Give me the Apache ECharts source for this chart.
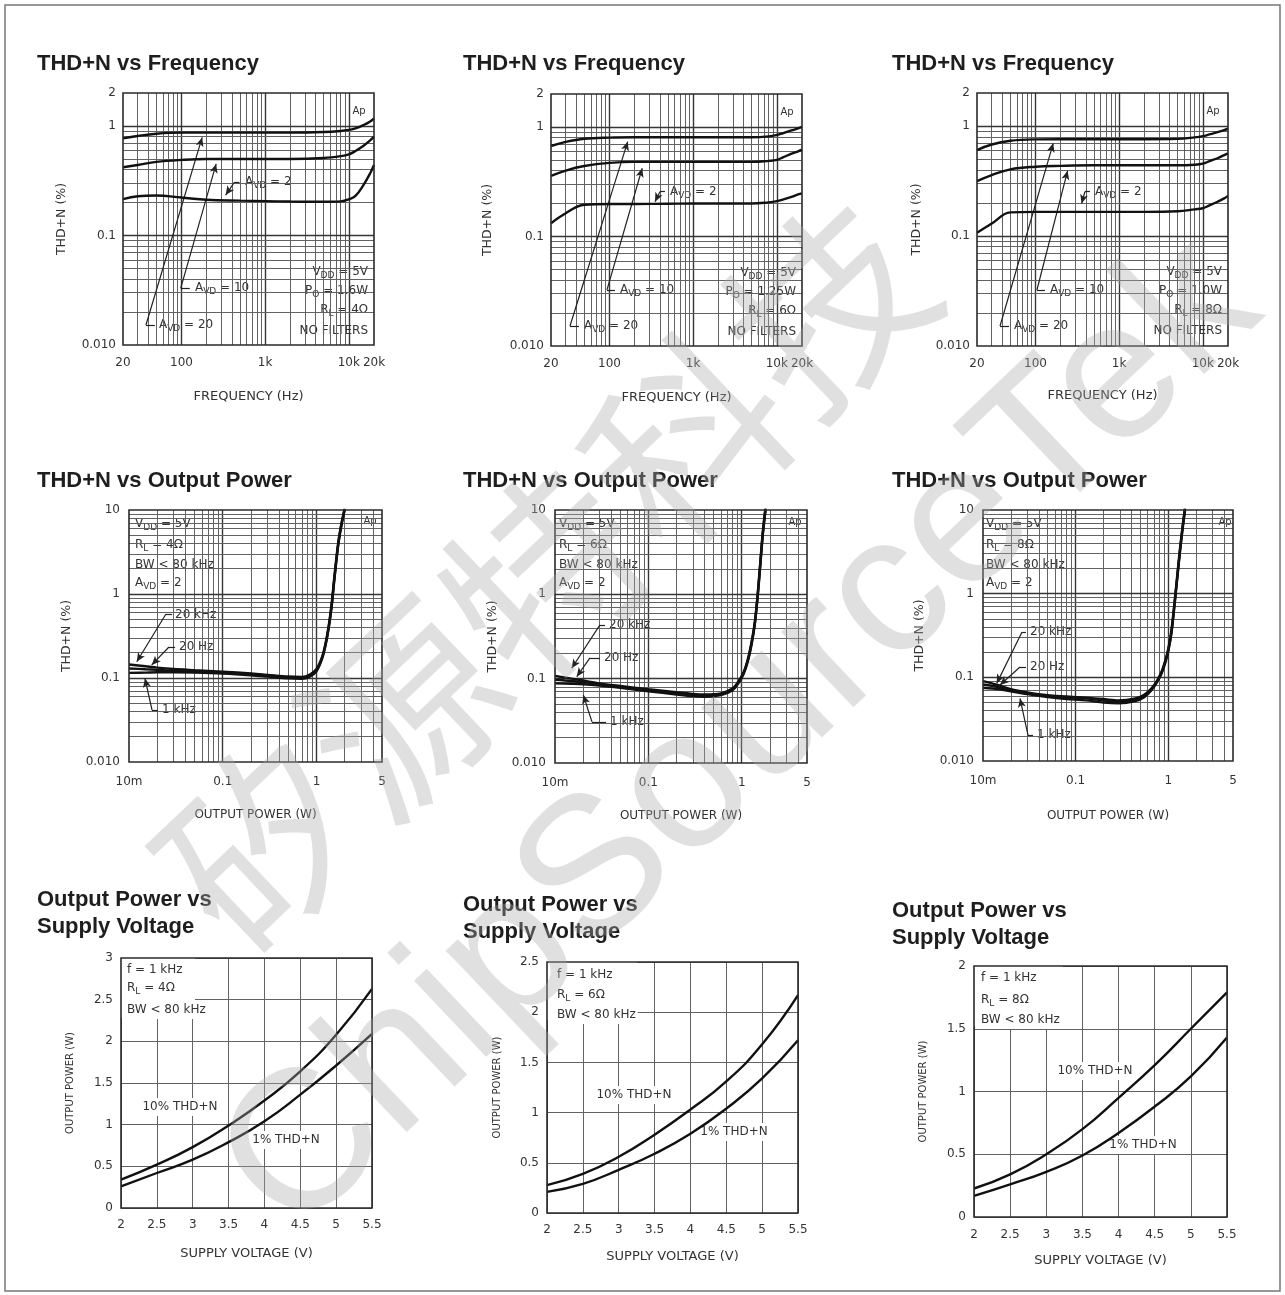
<!DOCTYPE html>
<html>
<head>
<meta charset="utf-8">
<script src="https://cdn.jsdelivr.net/npm/echarts@6/dist/echarts.min.js"></script>
<style>
html,body{margin:0;padding:0;background:#fff;}
#c{width:1285px;height:1295px;}
</style>
</head>
<body>
<div id="c"></div>
<script>
// ================= DATA =================
// THD+N vs Frequency (x: Hz, y: %)
const FREQ_HZ = [20, 30, 50, 100, 200, 500, 1000, 2000, 5000, 8000, 10000, 12000, 15000, 18000, 20000];
const THD_F_4OHM_AVD20 = [0.77, 0.81, 0.85, 0.87, 0.87, 0.87, 0.87, 0.87, 0.88, 0.90, 0.92, 0.95, 1.02, 1.10, 1.17];
const THD_F_4OHM_AVD10 = [0.42, 0.44, 0.47, 0.49, 0.50, 0.50, 0.50, 0.50, 0.51, 0.53, 0.55, 0.59, 0.66, 0.74, 0.80];
const THD_F_4OHM_AVD2  = [0.215, 0.228, 0.232, 0.222, 0.212, 0.208, 0.206, 0.204, 0.203, 0.205, 0.214, 0.23, 0.29, 0.37, 0.44];
const THD_F_6OHM_AVD20 = [0.67, 0.73, 0.78, 0.80, 0.805, 0.805, 0.805, 0.805, 0.805, 0.82, 0.845, 0.88, 0.93, 0.97, 1.0];
const THD_F_6OHM_AVD10 = [0.357, 0.40, 0.44, 0.47, 0.48, 0.48, 0.48, 0.48, 0.48, 0.49, 0.50, 0.53, 0.57, 0.60, 0.62];
const THD_F_6OHM_AVD2  = [0.132, 0.163, 0.195, 0.198, 0.198, 0.199, 0.20, 0.20, 0.20, 0.205, 0.21, 0.218, 0.23, 0.242, 0.248];
const THD_F_8OHM_AVD20 = [0.605, 0.68, 0.735, 0.757, 0.76, 0.76, 0.76, 0.76, 0.765, 0.79, 0.81, 0.84, 0.88, 0.92, 0.95];
const THD_F_8OHM_AVD10 = [0.316, 0.359, 0.404, 0.427, 0.435, 0.44, 0.44, 0.44, 0.44, 0.445, 0.455, 0.48, 0.51, 0.545, 0.565];
const THD_F_8OHM_AVD2  = [0.107, 0.13, 0.164, 0.166, 0.166, 0.166, 0.166, 0.166, 0.168, 0.175, 0.179, 0.19, 0.205, 0.22, 0.232];

// THD+N vs Output Power (x: W, y: %)
const POWER_4OHM_W = [0.01, 0.015, 0.02, 0.03, 0.05, 0.1, 0.2, 0.3, 0.5, 0.7, 0.85, 1.0, 1.15, 1.25, 1.35, 1.45, 1.55, 1.7, 1.85, 2.0];
const THD_P_4OHM_20KHZ = [0.145, 0.138, 0.133, 0.128, 0.124, 0.119, 0.113, 0.109, 0.104, 0.103, 0.110, 0.128, 0.18, 0.26, 0.42, 0.76, 1.6, 4.0, 7.0, 10.5];
const THD_P_4OHM_20HZ  = [0.13, 0.127, 0.125, 0.122, 0.12, 0.116, 0.111, 0.107, 0.101, 0.100, 0.107, 0.124, 0.175, 0.25, 0.40, 0.72, 1.5, 3.8, 6.8, 10.2];
const THD_P_4OHM_1KHZ  = [0.115, 0.116, 0.117, 0.117, 0.116, 0.113, 0.108, 0.104, 0.099, 0.098, 0.104, 0.12, 0.17, 0.245, 0.39, 0.70, 1.45, 3.7, 6.6, 10.0];
const POWER_6OHM_W = [0.01, 0.015, 0.02, 0.03, 0.05, 0.1, 0.2, 0.3, 0.4, 0.6, 0.8, 0.92, 1.05, 1.17, 1.28, 1.38, 1.48, 1.57, 1.68, 1.8];
const THD_P_6OHM_20KHZ = [0.108, 0.10, 0.095, 0.088, 0.082, 0.075, 0.069, 0.066, 0.065, 0.067, 0.077, 0.093, 0.12, 0.175, 0.28, 0.47, 1.0, 2.2, 5.5, 11];
const THD_P_6OHM_20HZ  = [0.097, 0.094, 0.091, 0.086, 0.08, 0.073, 0.067, 0.064, 0.063, 0.066, 0.075, 0.09, 0.117, 0.17, 0.27, 0.45, 0.95, 2.1, 5.2, 10.5];
const THD_P_6OHM_1KHZ  = [0.088, 0.087, 0.086, 0.083, 0.078, 0.071, 0.065, 0.062, 0.061, 0.064, 0.073, 0.088, 0.114, 0.165, 0.26, 0.44, 0.92, 2.0, 5.0, 10.0];
const POWER_8OHM_W = [0.01, 0.015, 0.02, 0.03, 0.05, 0.08, 0.13, 0.2, 0.29, 0.44, 0.55, 0.66, 0.76, 0.85, 0.93, 1.0, 1.08, 1.18, 1.26, 1.34, 1.43, 1.52];
const THD_P_8OHM_20KHZ = [0.09, 0.08, 0.072, 0.066, 0.061, 0.059, 0.057, 0.055, 0.053, 0.056, 0.062, 0.074, 0.092, 0.118, 0.16, 0.22, 0.36, 0.88, 1.8, 3.5, 6.5, 11];
const THD_P_8OHM_20HZ  = [0.082, 0.076, 0.07, 0.064, 0.06, 0.058, 0.056, 0.053, 0.051, 0.054, 0.06, 0.072, 0.09, 0.115, 0.155, 0.21, 0.34, 0.84, 1.7, 3.3, 6.2, 10.5];
const THD_P_8OHM_1KHZ  = [0.075, 0.072, 0.068, 0.063, 0.058, 0.055, 0.053, 0.050, 0.049, 0.052, 0.058, 0.07, 0.088, 0.112, 0.15, 0.205, 0.33, 0.80, 1.65, 3.2, 6.0, 10.0];

// Output Power vs Supply Voltage (x: V, y: W)
const SUPPLY_V = [2, 2.5, 3, 3.5, 4, 4.5, 5, 5.5];
const POUT_4OHM_10PCT = [0.34, 0.52, 0.73, 0.99, 1.29, 1.64, 2.08, 2.63];
const POUT_4OHM_1PCT  = [0.26, 0.42, 0.58, 0.79, 1.04, 1.36, 1.71, 2.09];
const POUT_6OHM_10PCT = [0.277, 0.39, 0.56, 0.78, 1.03, 1.31, 1.68, 2.17];
const POUT_6OHM_1PCT  = [0.21, 0.29, 0.43, 0.59, 0.79, 1.04, 1.34, 1.72];
const POUT_8OHM_10PCT = [0.227, 0.34, 0.50, 0.70, 0.95, 1.21, 1.50, 1.79];
const POUT_8OHM_1PCT  = [0.168, 0.26, 0.36, 0.49, 0.67, 0.88, 1.12, 1.43];

// Tick labels
const FREQ_TICKS = [20, 100, 1000, 10000, 20000];
const FREQ_TICK_LABELS = ['20', '100', '1k', '10k', '20k'];
const THD_F_TICKS = [0.01, 0.1, 1, 2];
const THD_F_TICK_LABELS = ['0.010', '0.1', '1', '2'];
const POWER_TICKS = [0.01, 0.1, 1, 5];
const POWER_TICK_LABELS = ['10m', '0.1', '1', '5'];
const THD_P_TICKS = [0.01, 0.1, 1, 10];
const THD_P_TICK_LABELS = ['0.010', '0.1', '1', '10'];
const POUT_MAX_W = [3, 2.5, 2];

// Leader lines (annotation pointers, data coordinates): [from, to, arrow]
const LEADERS_F4 = [[[494,0.308],[431,0.308],0],[[431,0.308],[337,0.234],1],[[125.6,0.0331],[98,0.0331],0],[[98,0.0331],[259.6,0.45],1],[[48.1,0.01522],[37.6,0.01522],0],[[37.6,0.01522],[176.7,0.786],1]];
const LEADERS_F6 = [[[460,0.2566],[401,0.2566],0],[[401,0.2566],[350,0.208],1],[[116.3,0.0325],[93.3,0.0325],0],[[93.3,0.0325],[246,0.42],1],[[43.2,0.01523],[33.7,0.01523],0],[[33.7,0.01523],[165,0.734],1]];
const LEADERS_F8 = [[[448,0.253],[390,0.253],0],[[390,0.253],[356,0.198],1],[[130,0.0323],[104,0.0323],0],[[104,0.0323],[242,0.392],1],[[48.2,0.0152],[37.7,0.0152],0],[[37.7,0.0152],[163,0.697],1]];
const LEADERS_P4 = [[[0.0288,0.578],[0.0248,0.578],0],[[0.0248,0.578],[0.0121,0.156],1],[[0.031,0.234],[0.0267,0.234],0],[[0.0267,0.234],[0.01746,0.143],1],[[0.0204,0.0416],[0.0176,0.0416],0],[[0.0176,0.0416],[0.0148,0.099],1]];
const LEADERS_P6 = [[[0.0343,0.434],[0.0303,0.434],0],[[0.0303,0.434],[0.0151,0.133],1],[[0.0303,0.176],[0.0237,0.176],0],[[0.0237,0.176],[0.0171,0.1057],1],[[0.0352,0.0307],[0.0249,0.0307],0],[[0.0249,0.0307],[0.0201,0.064],1]];
const LEADERS_P8 = [[[0.0291,0.348],[0.0264,0.348],0],[[0.0264,0.348],[0.01406,0.0847],1],[[0.0291,0.133],[0.0251,0.133],0],[[0.0251,0.133],[0.01526,0.081],1],[[0.0347,0.0204],[0.0306,0.0204],0],[[0.0306,0.0204],[0.0251,0.056],1]];

// ================= LAYOUT / STYLE =================
const FONT = 'DejaVu Sans';
const TFONT = 'Liberation Sans';
const INK = '#333';
const PANELS = [
  {l:123, t:93,  w:251, h:252, yGap:55,   xGap:45,   xM:12, yM:7},
  {l:551, t:94,  w:251, h:252, yGap:56.5, xGap:45.5, xM:12, yM:7},
  {l:977, t:93,  w:251, h:253, yGap:53.5, xGap:43.5, xM:12, yM:7},
  {l:129, t:510, w:253, h:252, yGap:55.5, xGap:46.5, xM:14, yM:9},
  {l:555, t:510, w:252, h:253, yGap:55.5, xGap:47,   xM:14, yM:9},
  {l:983, t:510, w:250, h:251, yGap:56.5, xGap:49,   xM:14, yM:9},
  {l:121, t:958, w:251, h:250, yGap:46,   xGap:39.5, xM:11, yM:8},
  {l:547, t:962, w:251, h:251, yGap:45,   xGap:37.5, xM:11, yM:8},
  {l:974, t:966, w:253, h:251, yGap:46,   xGap:37.5, xM:12, yM:8}
];
const TITLES = [
  {x:37,  y:64,  t:'THD+N vs Frequency'},
  {x:463, y:64,  t:'THD+N vs Frequency'},
  {x:892, y:64,  t:'THD+N vs Frequency'},
  {x:37,  y:481, t:'THD+N vs Output Power'},
  {x:463, y:481, t:'THD+N vs Output Power'},
  {x:892, y:481, t:'THD+N vs Output Power'},
  {x:37,  y:913.5, t:'Output Power vs\nSupply Voltage'},
  {x:463, y:918.5, t:'Output Power vs\nSupply Voltage'},
  {x:892, y:924, t:'Output Power vs\nSupply Voltage'}
];
const MINOR = {color:'#626262', width:1, type:'solid'};
const MAJOR = {color:'#363636', width:1.4, type:'solid'};
const RICH = { s: { fontFamily: FONT, fontSize: 9, fill: INK, verticalAlign: 'bottom', lineHeight: 9 } };

// ================= HELPERS =================
function near(a, b) { return Math.abs(a - b) <= Math.abs(b) * 1e-4 + 1e-12; }
function fmt(ticks, labels) {
  return function (v) { for (let i = 0; i < ticks.length; i++) { if (near(+v, ticks[i])) return labels[i]; } return ''; };
}
function pairs(xs, ys) { return xs.map((x, i) => [x, ys[i]]); }
function logGrid(min, max) {
  const out = [];
  for (let e = Math.floor(Math.log10(min)); e <= Math.ceil(Math.log10(max)); e++) {
    const d = Math.pow(10, e);
    for (let k = 1; k <= 9; k++) {
      const v = +(k * d).toPrecision(6);
      if (v > min * 1.0001 && v < max * 0.9999) out.push({ v: v, major: k === 1 });
    }
  }
  return out;
}
function axisLabelStyle(extra) {
  return Object.assign({ fontFamily: FONT, fontSize: 12, color: INK }, extra);
}
function logAxis(i, min, max, ticks, labels, name, gap, margin, rotate, nameSize) {
  return {
    type: 'log', logBase: 10, gridIndex: i, min: min, max: max,
    axisLine: { show: false }, axisTick: { show: false }, splitLine: { show: false },
    minorTick: { show: false }, minorSplitLine: { show: false },
    axisLabel: axisLabelStyle({ customValues: ticks, formatter: fmt(ticks, labels), margin: margin, showMinLabel: true, showMaxLabel: true, hideOverlap: false }),
    name: name, nameLocation: 'middle', nameGap: gap, nameRotate: rotate,
    nameTextStyle: { fontFamily: FONT, fontSize: nameSize, color: INK }
  };
}
function linAxis(i, min, max, name, gap, margin, rotate, nameSize) {
  return {
    type: 'value', gridIndex: i, min: min, max: max, interval: 0.5,
    axisLine: { show: false }, axisTick: { show: false },
    splitLine: { show: true, lineStyle: MINOR },
    axisLabel: axisLabelStyle({ margin: margin, showMinLabel: true, showMaxLabel: true, hideOverlap: false }),
    name: name, nameLocation: 'middle', nameGap: gap, nameRotate: rotate,
    nameTextStyle: { fontFamily: FONT, fontSize: nameSize, color: INK }
  };
}
function gridSeries(i, xs, ys) {
  const data = [];
  xs.forEach(g => data.push({ xAxis: g.v, lineStyle: g.major ? MAJOR : MINOR }));
  ys.forEach(g => data.push({ yAxis: g.v, lineStyle: g.major ? MAJOR : MINOR }));
  return {
    type: 'line', xAxisIndex: i, yAxisIndex: i, data: [], z: 1, silent: true, animation: false,
    markLine: { silent: true, animation: false, symbol: ['none', 'none'], label: { show: false },
      emphasis: { disabled: true }, lineStyle: MINOR, data: data }
  };
}
function curve(i, name, xs, ys, smooth) {
  return {
    type: 'line', name: name, xAxisIndex: i, yAxisIndex: i, data: pairs(xs, ys),
    showSymbol: false, symbol: 'none', smooth: smooth,
    lineStyle: { color: '#111', width: 2.4 }, z: 5, silent: true, animation: false
  };
}
function leaderSeries(i, segs) {
  return {
    type: 'line', xAxisIndex: i, yAxisIndex: i, data: [], z: 6, silent: true, animation: false,
    markLine: { silent: true, animation: false, label: { show: false }, emphasis: { disabled: true },
      symbol: ['none', 'none'], lineStyle: { color: '#222', width: 1.2, type: 'solid' },
      data: segs.map(s => [{ coord: s[0], symbol: 'none' }, { coord: s[1], symbol: s[2] ? 'arrow' : 'none', symbolSize: [6, 9] }]) }
  };
}
const G = [];
function txt(x, y, text, style, z) {
  G.push({ type: 'text', x: x, y: y, z: z || 4, silent: true,
    style: Object.assign({ text: text, fontFamily: FONT, fontSize: 12, fill: INK, align: 'left', verticalAlign: 'middle', lineHeight: 16, rich: RICH }, style || {}) });
}
function box(x, y, w, h) {
  G.push({ type: 'rect', z: 3, silent: true, shape: { x: x, y: y, width: w, height: h }, style: { fill: '#fff' } });
}
const BG = { backgroundColor: '#fff', padding: [1, 2] };

// ================= BUILD =================
const grids = PANELS.map(p => ({ left: p.l, top: p.t, width: p.w, height: p.h, show: true, borderColor: '#2a2a2a', borderWidth: 1.6, backgroundColor: 'transparent', z: 20, containLabel: false, outerBoundsMode: 'none' }));
const xAxes = [], yAxes = [], series = [];

// Row 1: THD+N vs Frequency
const FREQ_SETS = [
  [THD_F_4OHM_AVD20, THD_F_4OHM_AVD10, THD_F_4OHM_AVD2, LEADERS_F4, '1.6W', '4Ω', [120, 89], [70, 195], [34, 232]],
  [THD_F_6OHM_AVD20, THD_F_6OHM_AVD10, THD_F_6OHM_AVD2, LEADERS_F6, '1.25W', '6Ω', [117, 98], [67, 196], [31, 232]],
  [THD_F_8OHM_AVD20, THD_F_8OHM_AVD10, THD_F_8OHM_AVD2, LEADERS_F8, '1.0W', '8Ω', [116, 99], [71, 197], [35, 233]]
];
FREQ_SETS.forEach((s, k) => {
  const i = k, p = PANELS[i];
  xAxes.push(logAxis(i, 20, 20000, FREQ_TICKS, FREQ_TICK_LABELS, 'FREQUENCY (Hz)', p.xGap, p.xM, 0, 13));
  yAxes.push(logAxis(i, 0.01, 2, THD_F_TICKS, THD_F_TICK_LABELS, 'THD+N (%)', p.yGap, p.yM, 90, 12.5));
  series.push(gridSeries(i, logGrid(20, 20000), logGrid(0.01, 2)));
  series.push(curve(i, 'AVD = 20', FREQ_HZ, s[0], 0.4));
  series.push(curve(i, 'AVD = 10', FREQ_HZ, s[1], 0.4));
  series.push(curve(i, 'AVD = 2', FREQ_HZ, s[2], 0.4));
  series.push(leaderSeries(i, s[3]));
  txt(p.l + 236, p.t + 18, 'Ap', Object.assign({ fontSize: 10, align: 'center' }, BG));
  txt(p.l + 247, p.t + 179, 'V{s|DD} = 5V', Object.assign({ align: 'right' }, BG));
  txt(p.l + 247, p.t + 198, 'P{s|O} = ' + s[4], Object.assign({ align: 'right' }, BG));
  txt(p.l + 247, p.t + 217, 'R{s|L} = ' + s[5], Object.assign({ align: 'right' }, BG));
  txt(p.l + 247, p.t + 238, 'NO FILTERS', Object.assign({ align: 'right' }, BG));
  txt(p.l + s[6][0], p.t + s[6][1], 'A{s|VD} = 2', BG);
  txt(p.l + s[7][0], p.t + s[7][1], 'A{s|VD} = 10', BG);
  txt(p.l + s[8][0], p.t + s[8][1], 'A{s|VD} = 20', BG);
});

// Row 2: THD+N vs Output Power
const POWER_SETS = [
  [POWER_4OHM_W, THD_P_4OHM_20KHZ, THD_P_4OHM_20HZ, THD_P_4OHM_1KHZ, LEADERS_P4, '4Ω', 72, 80, 6, [44, 105], [48, 137], [31, 200], [241, 11]],
  [POWER_6OHM_W, THD_P_6OHM_20KHZ, THD_P_6OHM_20HZ, THD_P_6OHM_1KHZ, LEADERS_P6, '6Ω', 73, 80, 4, [52, 115], [47, 148], [53, 212], [240, 12]],
  [POWER_8OHM_W, THD_P_8OHM_20KHZ, THD_P_8OHM_20HZ, THD_P_8OHM_1KHZ, LEADERS_P8, '8Ω', 74, 82, 3, [45, 122], [45, 157], [52, 225], [242, 12]]
];
POWER_SETS.forEach((s, k) => {
  const i = 3 + k, p = PANELS[i];
  xAxes.push(logAxis(i, 0.01, 5, POWER_TICKS, POWER_TICK_LABELS, 'OUTPUT POWER (W)', p.xGap, p.xM, 0, 12));
  yAxes.push(logAxis(i, 0.01, 10, THD_P_TICKS, THD_P_TICK_LABELS, 'THD+N (%)', p.yGap, p.yM, 90, 12.5));
  series.push(gridSeries(i, logGrid(0.01, 5), logGrid(0.01, 10)));
  series.push(curve(i, '20 kHz', s[0], s[1], 0.3));
  series.push(curve(i, '20 Hz', s[0], s[2], 0.3));
  series.push(curve(i, '1 kHz', s[0], s[3], 0.3));
  series.push(leaderSeries(i, s[4]));
  box(p.l, p.t, s[6], s[7]);
  const tx = p.l + s[8];
  txt(tx, p.t + 14, 'V{s|DD} = 5V');
  txt(tx, p.t + 35, 'R{s|L} = ' + s[5]);
  txt(tx, p.t + 55, 'BW < 80 kHz');
  txt(tx, p.t + 73, 'A{s|VD} = 2');
  txt(p.l + s[12][0], p.t + s[12][1], 'Ap', Object.assign({ fontSize: 10, align: 'center' }, BG));
  txt(p.l + s[9][0], p.t + s[9][1], '20 kHz', BG);
  txt(p.l + s[10][0], p.t + s[10][1], '20 Hz', BG);
  txt(p.l + s[11][0], p.t + s[11][1], '1 kHz', BG);
});

// Row 3: Output Power vs Supply Voltage
const SUPPLY_SETS = [
  [POUT_4OHM_10PCT, POUT_4OHM_1PCT, '4Ω', 74, 60, 6, [12, 30, 52], [59, 149], [165, 182]],
  [POUT_6OHM_10PCT, POUT_6OHM_1PCT, '6Ω', 90, 58, 10, [13, 33, 53], [87, 133], [187, 170]],
  [POUT_8OHM_10PCT, POUT_8OHM_1PCT, '8Ω', 89, 60, 7, [12, 34, 54], [121, 105], [169, 179]]
];
SUPPLY_SETS.forEach((s, k) => {
  const i = 6 + k, p = PANELS[i];
  xAxes.push(linAxis(i, 2, 5.5, 'SUPPLY VOLTAGE (V)', p.xGap, p.xM, 0, 13));
  yAxes.push(linAxis(i, 0, POUT_MAX_W[k], 'OUTPUT POWER (W)', p.yGap, p.yM, 90, 10));
  series.push(curve(i, '10% THD+N', SUPPLY_V, s[0], 0.5));
  series.push(curve(i, '1% THD+N', SUPPLY_V, s[1], 0.5));
  box(p.l, p.t, s[3], s[4]);
  const tx = p.l + s[5];
  txt(tx, p.t + s[6][0], 'f = 1 kHz');
  txt(tx, p.t + s[6][1], 'R{s|L} = ' + s[2]);
  txt(tx - 2, p.t + s[6][2], 'BW < 80 kHz', BG);
  txt(p.l + s[7][0], p.t + s[7][1], '10% THD+N', Object.assign({ align: 'center' }, BG));
  txt(p.l + s[8][0], p.t + s[8][1], '1% THD+N', Object.assign({ align: 'center' }, BG));
});

// Titles
TITLES.forEach(t => {
  G.push({ type: 'text', x: t.x, y: t.y, z: 4, silent: true,
    style: { text: t.t, fontFamily: TFONT, fontWeight: 'bold', fontSize: 22, fill: '#1e1e1e', align: 'left', verticalAlign: 'middle', lineHeight: 27 } });
});

// Page frame
G.push({ type: 'rect', z: 30, silent: true, shape: { x: 5, y: 5, width: 1275, height: 1286 }, style: { fill: 'none', stroke: '#777', lineWidth: 1.5 } });

// Watermark
G.push({ type: 'text', x: 545, y: 575, rotation: 0.76, z: 40, silent: true,
  style: { text: '矽源特科技', fontFamily: 'Noto Sans CJK SC', fontSize: 195, fill: 'rgba(170,170,170,0.36)', align: 'center', verticalAlign: 'middle' } });
G.push({ type: 'text', x: 742, y: 738, rotation: 0.76, z: 40, silent: true,
  style: { text: 'ChipSourceTek', fontFamily: TFONT, fontSize: 198, fill: 'rgba(170,170,170,0.36)', align: 'center', verticalAlign: 'middle' } });

const chart = echarts.init(document.getElementById('c'), null, { renderer: 'canvas', width: 1285, height: 1295 });
chart.setOption({
  backgroundColor: '#fff',
  animation: false,
  grid: grids,
  xAxis: xAxes,
  yAxis: yAxes,
  series: series,
  graphic: { elements: G }
});
</script>
</body>
</html>
